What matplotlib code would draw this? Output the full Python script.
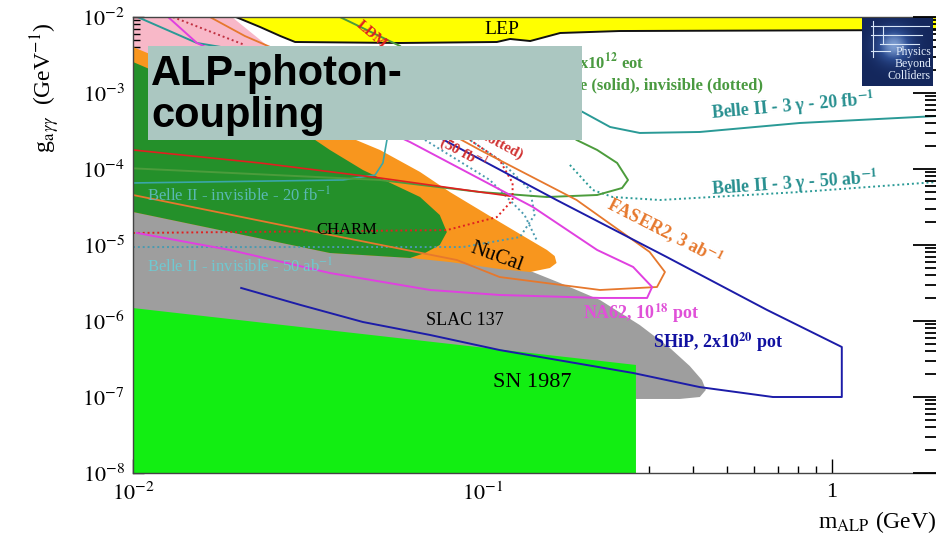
import numpy as np
import matplotlib.pyplot as plt
from matplotlib.patches import Rectangle
from matplotlib.colors import LinearSegmentedColormap
from matplotlib.ticker import FixedLocator, FixedFormatter, LogLocator, NullFormatter

plt.rcParams['font.family'] = ['Liberation Serif', 'DejaVu Serif']
plt.rcParams['mathtext.fontset'] = 'stix'

# ---- data: m_ALP (GeV), g_agg (GeV^-1) ----
xticks = [1e-2, 1e-1, 1.0]
xticklabels = [r'$10^{-2}$', r'$10^{-1}$', '1']
yticks = [1e-8, 1e-7, 1e-6, 1e-5, 1e-4, 1e-3, 1e-2]
yticklabels = [r'$10^{-8}$', r'$10^{-7}$', r'$10^{-6}$', r'$10^{-5}$',
               r'$10^{-4}$', r'$10^{-3}$', r'$10^{-2}$']

# filled exclusion regions
lep_m = [0.0197, 0.0231, 0.0264, 0.0291, 0.0581, 0.110, 0.120, 0.137, 0.167, 0.247, 2.0, 2.0, 0.0197]
lep_g = [1e-2, 7.39e-3, 5.62e-3, 4.69e-3, 4.55e-3, 4.69e-3, 5.14e-3, 4.83e-3, 6.16e-3, 6.54e-3, 6.75e-3, 1e-2, 1e-2]

pink_m = [0.01, 0.0192, 0.0265, 0.01]
pink_g = [1e-2, 1e-2, 3.0e-3, 3.0e-3]

orange_m = [0.01, 0.0509, 0.0663, 0.0807, 0.112, 0.137, 0.153, 0.161, 0.163, 0.156,
            0.137, 0.112, 0.0807, 0.0621, 0.0366, 0.01]
orange_g = [4.03e-3, 1.78e-4, 9.14e-5, 4.98e-5, 2.01e-5, 1.16e-5, 8.6e-6, 7.16e-6, 5.80e-6, 4.98e-6,
            4.41e-6, 4.83e-6, 5.97e-6, 6.75e-6, 7.85e-6, 2.72e-5]

charm_m = [0.01, 0.0332, 0.0366, 0.0455, 0.0663, 0.0755, 0.0791, 0.0755, 0.0685, 0.0621, 0.0366, 0.01]
charm_g = [2.56e-3, 2.41e-4, 1.78e-4, 9.7e-5, 4.28e-5, 2.48e-5, 1.48e-5, 1.00e-5, 7.85e-6, 6.75e-6,
           7.85e-6, 2.72e-5]

slac_m = [0.01, 0.0366, 0.0621, 0.112, 0.137, 0.167, 0.217, 0.282, 0.344, 0.392, 0.425, 0.436,
          0.419, 0.367, 0.275, 0.275, 0.01]
slac_g = [3.91e-5, 8.6e-6, 7.16e-6, 5.30e-6, 4.55e-6, 3.16e-6, 1.89e-6, 8.86e-7, 4.42e-7, 2.56e-7,
          1.67e-7, 1.24e-7, 1.00e-7, 9.42e-8, 9.42e-8, 1e-8, 1e-8]

sn_m = [0.01, 0.275, 0.275, 0.01]
sn_g = [1.48e-6, 2.64e-7, 1e-8, 1e-8]

# projected sensitivity curves
ship_m = [0.0708, 0.0776, 0.163, 0.337, 0.652, 1.068, 1.068, 0.678, 0.419, 0.270, 0.112,
          0.0708, 0.0455, 0.0301, 0.0204]
ship_g = [2.98e-4, 2.41e-4, 3.91e-5, 6.95e-6, 1.40e-6, 4.55e-7, 1.00e-7, 1.00e-7, 1.35e-7, 2.07e-7,
          4.15e-7, 6.55e-7, 9.7e-7, 1.63e-6, 2.72e-6]

na62_m = [0.0126, 0.01524, 0.0621, 0.1395, 0.213, 0.270, 0.306, 0.296, 0.217, 0.112, 0.0708,
          0.0366, 0.01894, 0.01027]
na62_g = [1e-2, 4.55e-3, 2.26e-4, 3.16e-5, 8.6e-6, 5.14e-6, 2.80e-6, 2.01e-6, 2.01e-6, 2.20e-6,
          2.56e-6, 4.28e-6, 8.6e-6, 1.44e-5]

faser_m = [0.01, 0.0366, 0.0845, 0.112, 0.217, 0.316, 0.333, 0.301, 0.186, 0.0984, 0.0477, 0.0209, 0.0166]
faser_g = [4.55e-5, 1.36e-5, 6.35e-6, 3.79e-6, 2.56e-6, 2.80e-6, 4.41e-6, 8.1e-6, 3.91e-5, 1.78e-4,
           1.09e-3, 5.62e-3, 1e-2]

red_solid_m = [0.01, 0.0231, 0.0509, 0.0984, 0.120]
red_solid_g = [1.78e-4, 1.20e-4, 7.62e-5, 4.98e-5, 4.4e-5]
red_dot_m = [0.01, 0.0791, 0.110, 0.122, 0.122, 0.112, 0.0921]
red_dot_g = [1.44e-5, 1.57e-5, 2.33e-5, 3.91e-5, 6.55e-5, 1.31e-4, 2.41e-4]
red_dot2_m = [0.0130, 0.0209]
red_dot2_g = [1e-2, 4.28e-3]

na64_m = [0.01, 0.0509, 0.0984, 0.153, 0.213, 0.251, 0.261, 0.243, 0.213, 0.186]
na64_g = [1.02e-4, 7.17e-5, 4.98e-5, 4.28e-5, 4.55e-5, 5.62e-5, 7.17e-5, 1.20e-4, 1.78e-4, 2.41e-4]
na64_top_m = [0.0391, 0.0581]
na64_top_g = [1e-2, 4.15e-3]

b2inv20_m = [0.01, 0.0399, 0.0493, 0.0519, 0.0533]
b2inv20_g = [6.55e-5, 7.17e-5, 8.34e-5, 1.20e-4, 2.41e-4]
b2inv50_m = [0.01, 0.0879, 0.128, 0.141, 0.137, 0.112, 0.0921]
b2inv50_g = [9.4e-6, 9.4e-6, 1.27e-5, 2.48e-5, 5.29e-5, 1.31e-4, 2.41e-4]
b2inv50b_m = [0.0685, 0.105, 0.132, 0.143]
b2inv50b_g = [2.41e-4, 7.17e-5, 2.48e-5, 1.16e-5]

b23g20_m = [0.0103, 0.01524, 0.178, 0.232, 0.282, 0.419, 0.809, 2.0]
b23g20_g = [1e-2, 4.55e-3, 6.95e-4, 3.57e-4, 2.98e-4, 3.07e-4, 4.03e-4, 4.98e-4]
b23g50_m = [0.178, 0.207, 0.236, 0.322, 0.809, 2.0]
b23g50_g = [1.13e-4, 5.29e-5, 4.28e-5, 3.91e-5, 4.98e-5, 6.75e-5]

# ---- figure ----
fig = plt.figure(figsize=(9.37, 5.49), dpi=100)
ax = fig.add_axes([133 / 937, 76 / 549, 804 / 937, 456 / 549])
ax.set_xscale('log')
ax.set_yscale('log')
ax.set_xlim(0.01, 2.0)
ax.set_ylim(1e-8, 1e-2)
ax.set_axisbelow(True)

ax.fill(pink_m, pink_g, color='#f8b8c8', lw=0, zorder=0.3)
ax.fill(lep_m, lep_g, color='#ffff00', lw=0, zorder=1)
ax.plot(lep_m[:11], lep_g[:11], color='#111111', lw=1.4, zorder=1.05)
ax.fill(slac_m, slac_g, color='#9e9e9e', lw=0, zorder=1.1)
ax.fill(orange_m, orange_g, color='#f8961e', lw=0, zorder=1.2)
ax.fill(charm_m, charm_g, color='#24902a', lw=0, zorder=1.3)
ax.fill(sn_m, sn_g, color='#12ee12', lw=0, zorder=1.4)

teal = '#2a9a96'
ax.plot(b2inv20_m, b2inv20_g, color='#3aa6a8', lw=1.2, zorder=2)
ax.plot(b2inv50_m, b2inv50_g, color='#4a9ab0', lw=1.4, ls=(0, (1, 1.5)), zorder=2)
ax.plot(b2inv50b_m, b2inv50b_g, color='#4a9ab0', lw=1.4, ls=(0, (1, 1.5)), zorder=2)
ax.plot(b23g20_m, b23g20_g, color=teal, lw=1.4, zorder=2)
ax.plot(b23g50_m, b23g50_g, color=teal, lw=1.4, ls=(0, (1, 1.5)), zorder=2)
ax.plot(na64_m, na64_g, color='#4c9c3c', lw=1.4, zorder=2)
ax.plot(na64_top_m, na64_top_g, color='#4c9c3c', lw=1.4, zorder=2)
ax.plot(red_solid_m, red_solid_g, color='#e02020', lw=1.2, zorder=2)
ax.plot(red_dot_m, red_dot_g, color='#e02020', lw=1.4, ls=(0, (1, 1.5)), zorder=2)
ax.plot(red_dot2_m, red_dot2_g, color='#c03040', lw=1.4, ls=(0, (1, 1.5)), zorder=2)
ax.plot(faser_m, faser_g, color='#e6782d', lw=1.3, zorder=2.1)
ax.plot(na62_m, na62_g, color='#e040e0', lw=1.4, zorder=2.2)
ax.plot(ship_m, ship_g, color='#1c1ca8', lw=1.4, zorder=2.3)

# region / curve labels
ax.text(0.114, 6.75e-3, 'LEP', fontsize=14, ha='center', va='center', zorder=3)
ax.text(0.0410, 1.57e-5, 'CHARM', fontsize=12, ha='center', va='center', zorder=3)
ax.text(0.110, 6.95e-6, 'NuCal', fontsize=15, ha='center', va='center', rotation=-20, zorder=3)
ax.text(0.0891, 1.03e-6, 'SLAC 137', fontsize=13, ha='center', va='center', zorder=3)
ax.text(0.1385, 1.57e-7, 'SN 1987', fontsize=16, ha='center', va='center', zorder=3)
ax.text(0.194, 1.27e-6, r'NA62, 10$^{\mathbf{18}}$ pot', fontsize=13, fontweight='bold',
        color='#e050d8', ha='left', va='center', zorder=3)
ax.text(0.307, 5.3e-7, r'SHiP, 2x10$^{\mathbf{20}}$ pot', fontsize=13, fontweight='bold',
        color='#1010a0', ha='left', va='center', zorder=3)
ax.text(0.333, 1.48e-5, r'FASER2, 3 ab$^{\mathbf{-1}}$', fontsize=13, fontweight='bold',
        color='#e6782d', ha='center', va='center', rotation=-27, zorder=3)
ax.text(0.773, 6.75e-4, r'Belle II - 3 γ - 20 fb$^{\mathbf{-1}}$', fontsize=13, fontweight='bold',
        color='#289090', ha='center', va='center', rotation=5, zorder=3)
ax.text(0.783, 6.55e-5, r'Belle II - 3 γ - 50 ab$^{\mathbf{-1}}$', fontsize=13, fontweight='bold',
        color='#289090', ha='center', va='center', rotation=4, zorder=3)
ax.text(0.01096, 4.41e-5, r'Belle II - invisible - 20 fb$^{-1}$', fontsize=12,
        color='#5ab8b4', ha='left', va='center', zorder=3)
ax.text(0.01096, 5.14e-6, r'Belle II - invisible - 50 ab$^{-1}$', fontsize=12,
        color='#70c8d0', ha='left', va='center', zorder=3)
ax.text(0.291, 2.56e-3, r'NA64, 5x10$^{\mathbf{12}}$ eot', fontsize=12, fontweight='bold',
        color='#4a9a40', ha='right', va='center', zorder=3)
ax.text(0.635, 1.27e-3, 'visible (solid), invisible (dotted)', fontsize=12, fontweight='bold',
        color='#4a9a40', ha='right', va='center', zorder=3)
ax.text(0.0483, 5.8e-3, 'LDM', fontsize=11, fontweight='bold', color='#e02020',
        ha='center', va='center', rotation=-40, zorder=3)
ax.text(0.0880, 1.65e-4, r'(50 fb$^{-1}$', fontsize=11, fontweight='bold', color='#d03030',
        ha='center', va='center', rotation=-28, zorder=3)
ax.text(0.112, 2.1e-4, '(dotted)', fontsize=11, fontweight='bold', color='#d03030',
        ha='center', va='center', rotation=-28, zorder=3)

# axes, ticks
ax.xaxis.set_major_locator(FixedLocator(xticks))
ax.xaxis.set_major_formatter(FixedFormatter(xticklabels))
ax.xaxis.set_minor_locator(LogLocator(base=10, subs=np.arange(2, 10)))
ax.xaxis.set_minor_formatter(NullFormatter())
ax.yaxis.set_major_locator(FixedLocator(yticks))
ax.yaxis.set_major_formatter(FixedFormatter(yticklabels))
ax.yaxis.set_minor_locator(LogLocator(base=10, subs=np.arange(2, 10)))
ax.yaxis.set_minor_formatter(NullFormatter())
ax.tick_params(which='both', direction='in', top=False, right=False, labelsize=16)
ax.tick_params(axis='x', which='major', length=10, width=1, pad=7)
ax.tick_params(axis='x', which='minor', length=5, width=1)
ax.tick_params(axis='y', which='major', length=8, width=1, pad=6)
ax.tick_params(axis='y', which='minor', length=5, width=1)
for s in ax.spines.values():
    s.set_color('#444444')
    s.set_linewidth(1.0)

axr = ax.twinx()
axr.set_yscale('log')
axr.set_ylim(1e-8, 1e-2)
axr.yaxis.set_major_locator(FixedLocator(yticks))
axr.yaxis.set_minor_locator(LogLocator(base=10, subs=np.arange(2, 10)))
axr.yaxis.set_major_formatter(NullFormatter())
axr.yaxis.set_minor_formatter(NullFormatter())
axr.tick_params(axis='y', which='major', direction='in', length=17, width=1.3)
axr.tick_params(axis='y', which='minor', direction='in', length=9, width=1.3)
for s in axr.spines.values():
    s.set_visible(False)

fig.text(936 / 937, 0.049, r'm$_{\mathrm{ALP}}$ (GeV)', fontsize=17, ha='right', va='center')
fig.text(45 / 937, (549 - 88) / 549, r'g$_{\mathrm{a}\,\gamma\gamma}$  (GeV$^{\mathrm{-1}}$)',
         fontsize=17, rotation=90, ha='center', va='center')

# logo in top right corner
lg = fig.add_axes([862 / 937, (549 - 86) / 549, 71 / 937, 68 / 549], zorder=5)
yy, xx = np.mgrid[0:1:60j, 0:1:70j]
glow = np.exp(-((xx - 0.45) ** 2 + (yy - 0.6) ** 2) / 0.06)
navy = LinearSegmentedColormap.from_list('navy', ['#14275c', '#2c4c90', '#7c9cd0'])
lg.imshow(glow, cmap=navy, vmin=0, vmax=1, extent=[0, 1, 0, 1], aspect='auto', origin='lower')
for yl, x0, x1 in [(0.88, 0.12, 0.95), (0.75, 0.12, 0.85), (0.62, 0.25, 0.8), (0.52, 0.12, 0.4)]:
    lg.plot([x0, x1], [yl, yl], color='#d8e6f8', lw=0.8)
lg.plot([0.15, 0.15], [0.95, 0.42], color='#d8e6f8', lw=0.8)
lg.plot([0.3, 0.3], [0.88, 0.62], color='#d8e6f8', lw=0.8)
lg.text(0.97, 0.50, 'Physics', fontsize=8.5, color='#e4eefc', ha='right', va='center')
lg.text(0.97, 0.33, 'Beyond', fontsize=8.5, color='#e4eefc', ha='right', va='center')
lg.text(0.97, 0.14, 'Colliders', fontsize=8.5, color='#e4eefc', ha='right', va='center')
lg.set_xlim(0, 1)
lg.set_ylim(0, 1)
lg.axis('off')

# title box overlay
fig.add_artist(Rectangle((148 / 937, (549 - 140) / 549), 434 / 937, 94 / 549,
                         transform=fig.transFigure, facecolor='#abc7c1', edgecolor='none', zorder=10))
fig.text(151 / 937, (549 - 85) / 549, 'ALP-photon-', fontsize=30, fontweight='bold',
         family=['Liberation Sans', 'DejaVu Sans'], ha='left', va='baseline', zorder=11)
fig.text(151 / 937, (549 - 127) / 549, 'coupling', fontsize=30, fontweight='bold',
         family=['Liberation Sans', 'DejaVu Sans'], ha='left', va='baseline', zorder=11)

fig.savefig('out.png', dpi=100)
